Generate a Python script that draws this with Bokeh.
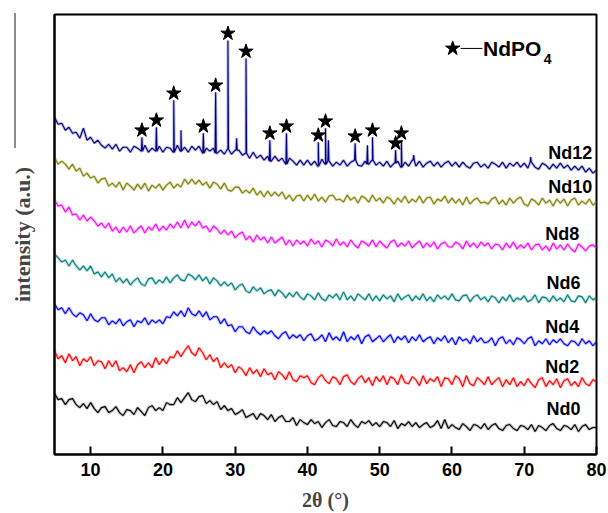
import numpy as np
from bokeh.plotting import figure
from bokeh.models import Range1d, FixedTicker, InlineStyleSheet
from bokeh.core.properties import value
from bokeh.embed import file_html
from bokeh.resources import INLINE

# 2theta sampling (degrees)
theta_start, theta_stop, theta_step = 5.0, 80.0, 0.5
two_theta = np.arange(theta_start, theta_stop + theta_step / 2, theta_step)

# intensities (a.u.), offset-stacked as in the original
nd0 = [61, 55, 56, 50, 55, 56, 50, 47, 51, 46,
       52, 46, 42, 47, 48, 42, 44, 48, 42, 39,
       45, 44, 40, 47, 43, 39, 47, 49, 44, 47,
       44, 52, 50, 50, 57, 52, 57, 62, 55, 53,
       58, 59, 51, 54, 50, 53, 45, 49, 44, 46,
       40, 42, 45, 37, 39, 41, 35, 41, 39, 35,
       40, 33, 37, 39, 33, 33, 37, 29, 35, 32,
       30, 35, 31, 33, 27, 32, 35, 29, 28, 33,
       32, 28, 35, 30, 27, 33, 31, 34, 29, 32,
       28, 33, 32, 28, 34, 26, 31, 29, 33, 28,
       32, 27, 30, 32, 27, 29, 34, 26, 35, 26,
       30, 27, 25, 31, 28, 24, 30, 29, 26, 31,
       25, 29, 31, 26, 24, 29, 30, 26, 24, 29,
       28, 25, 30, 23, 29, 27, 24, 29, 31, 26,
       24, 29, 28, 25, 30, 23, 28, 30, 25, 27,
       27]
nd2 = [104, 96, 99, 92, 101, 94, 98, 89, 96, 93,
       98, 89, 94, 93, 86, 94, 88, 94, 84, 87,
       83, 90, 82, 90, 93, 87, 92, 87, 97, 90,
       96, 91, 98, 97, 104, 98, 104, 109, 102, 99,
       107, 102, 95, 100, 93, 97, 87, 92, 87, 90,
       82, 88, 85, 79, 87, 81, 85, 78, 86, 80,
       82, 75, 83, 80, 75, 83, 75, 73, 79, 77,
       79, 72, 70, 77, 80, 74, 71, 78, 76, 70,
       78, 80, 73, 70, 76, 79, 72, 77, 69, 78,
       73, 79, 70, 78, 76, 70, 80, 72, 71, 78,
       75, 69, 79, 71, 76, 73, 78, 68, 77, 76,
       70, 79, 76, 68, 79, 71, 69, 77, 74, 70,
       78, 70, 74, 77, 68, 75, 70, 77, 68, 73,
       69, 76, 71, 67, 75, 77, 68, 74, 70, 76,
       67, 74, 76, 69, 73, 68, 77, 71, 69, 75,
       73]
nd4 = [151, 145, 147, 141, 147, 141, 138, 142, 140, 134,
       141, 135, 133, 137, 137, 130, 134, 131, 136, 129,
       133, 135, 128, 134, 132, 137, 130, 135, 132, 135,
       131, 138, 137, 143, 139, 144, 138, 147, 141, 139,
       144, 138, 143, 135, 138, 138, 131, 136, 129, 130,
       123, 128, 128, 123, 121, 128, 123, 120, 124, 121,
       124, 119, 116, 121, 123, 116, 120, 117, 120, 114,
       119, 121, 114, 116, 120, 113, 122, 115, 118, 114,
       123, 113, 118, 115, 120, 111, 118, 120, 113, 116,
       119, 113, 117, 120, 112, 118, 115, 119, 112, 118,
       114, 120, 113, 116, 118, 111, 117, 114, 119, 112,
       117, 110, 118, 114, 116, 111, 119, 113, 117, 112,
       113, 117, 109, 116, 118, 111, 115, 110, 117, 115,
       111, 116, 118, 109, 114, 111, 116, 110, 115, 112,
       116, 111, 109, 114, 113, 109, 116, 111, 114, 109,
       113]
nd6 = [201, 197, 193, 195, 189, 195, 189, 185, 189, 184,
       189, 181, 183, 178, 183, 177, 181, 173, 177, 172,
       176, 170, 174, 177, 171, 169, 176, 177, 171, 175,
       172, 178, 172, 177, 180, 175, 174, 181, 179, 175,
       180, 174, 178, 171, 177, 174, 169, 173, 169, 172,
       165, 169, 171, 164, 162, 168, 164, 167, 161, 164,
       165, 159, 165, 162, 157, 162, 158, 163, 158, 155,
       161, 159, 155, 162, 156, 154, 160, 157, 161, 155,
       163, 155, 159, 154, 161, 158, 155, 161, 154, 159,
       154, 160, 156, 159, 153, 161, 155, 158, 160, 154,
       159, 155, 161, 154, 158, 153, 160, 156, 159, 155,
       161, 155, 154, 159, 160, 153, 158, 160, 155, 158,
       153, 159, 157, 152, 158, 154, 160, 153, 157, 155,
       159, 153, 155, 160, 152, 158, 157, 153, 159, 154,
       157, 153, 160, 154, 153, 159, 158, 152, 159, 155,
       157]
nd8 = [255, 249, 250, 243, 248, 240, 241, 235, 240, 234,
       238, 234, 229, 232, 227, 232, 224, 228, 222, 228,
       223, 229, 222, 226, 229, 222, 228, 225, 231, 224,
       229, 225, 231, 227, 233, 227, 235, 227, 233, 229,
       234, 227, 229, 223, 229, 226, 221, 225, 220, 224,
       217, 221, 223, 215, 219, 213, 220, 215, 218, 212,
       218, 212, 215, 218, 210, 215, 209, 215, 211, 214,
       209, 216, 211, 214, 208, 215, 213, 209, 216, 210,
       213, 208, 215, 210, 207, 214, 212, 209, 215, 208,
       214, 210, 207, 213, 215, 208, 212, 209, 214, 207,
       211, 214, 207, 212, 208, 213, 206, 211, 213, 208,
       208, 213, 211, 206, 214, 208, 212, 207, 213, 209,
       212, 206, 211, 210, 205, 212, 207, 213, 206, 210,
       207, 212, 205, 210, 211, 205, 209, 204, 212, 206,
       210, 205, 211, 206, 203, 211, 208, 204, 209, 210,
       207]
nd10 = [298, 291, 294, 291, 286, 291, 284, 287, 279, 282,
        277, 279, 272, 276, 277, 269, 272, 268, 273, 265,
        272, 269, 265, 271, 266, 272, 264, 270, 267, 271,
        265, 270, 273, 267, 271, 268, 276, 271, 276, 271,
        275, 270, 273, 267, 273, 271, 266, 272, 265, 264,
        268, 268, 262, 265, 262, 267, 260, 264, 258, 264,
        259, 263, 259, 263, 256, 260, 254, 259, 260, 254,
        260, 255, 261, 254, 258, 253, 259, 260, 255, 256,
        253, 260, 255, 258, 252, 259, 257, 253, 260, 254,
        257, 252, 258, 256, 251, 257, 253, 259, 252, 256,
        253, 259, 252, 257, 258, 251, 256, 254, 259, 252,
        257, 252, 256, 250, 258, 251, 255, 257, 252, 253,
        251, 256, 258, 251, 255, 250, 257, 252, 256, 258,
        251, 249, 256, 254, 250, 257, 252, 255, 249, 256,
        252, 256, 249, 255, 257, 250, 254, 251, 256, 250,
        253]
nd12 = [338, 331, 332, 325, 328, 322, 323, 317, 327, 315,
        318, 312, 315, 310, 307, 311, 306, 311, 304, 308,
        308, 303, 309, 307, 304, 310, 303, 307, 304, 309,
        303, 308, 307, 303, 310, 304, 308, 303, 309, 305,
        309, 302, 307, 304, 307, 302, 305, 301, 306, 301,
        305, 305, 300, 302, 297, 303, 297, 300, 295, 299,
        294, 299, 294, 297, 291, 297, 294, 290, 295, 290,
        295, 290, 294, 289, 296, 291, 294, 289, 293, 290,
        295, 289, 293, 295, 290, 289, 294, 291, 295, 290,
        293, 289, 294, 288, 292, 294, 288, 293, 289, 295,
        289, 294, 288, 292, 294, 289, 293, 288, 292, 294,
        289, 293, 288, 293, 289, 287, 292, 293, 288, 291,
        287, 293, 291, 288, 293, 287, 292, 289, 293, 288,
        292, 287, 293, 288, 286, 292, 290, 286, 291, 287,
        292, 287, 290, 285, 289, 285, 289, 283, 287, 282,
        285]

# NdPO4 reflections in Nd12 (2theta, peak top) and whether a star marks it
peak_pos = [17.1, 19.1, 21.5, 22.5, 25.6, 27.3, 29.0, 30.2, 31.5, 34.8, 37.1,
            41.5, 42.5, 42.9, 46.6, 48.3, 49.0, 52.2, 53.0, 54.7, 70.9]
peak_top = [318, 328, 355, 325, 322, 363, 415, 317, 397, 315, 322,
            313, 327, 315, 312, 310, 318, 305, 315, 300, 298]
peak_star = [1, 1, 1, 0, 1, 1, 1, 0, 1, 1, 1,
             1, 1, 0, 1, 0, 1, 1, 1, 0, 0]

series_names = ["Nd0", "Nd2", "Nd4", "Nd6", "Nd8", "Nd10", "Nd12"]
series_colors = ["#000000", "#ff0000", "#0000ff", "#008080", "#ff00ff", "#808000", "#000080"]
label_x = [77.8, 77.6, 77.6, 77.8, 77.6, 79.4, 79.4]
label_y = [46, 88, 128, 172, 221, 268, 302]

x_ticks = [10, 20, 30, 40, 50, 60, 70, 80]

p = figure(width=608, height=513, output_backend="svg", toolbar_location=None,
           x_range=Range1d(5, 80), y_range=Range1d(0, 441),
           min_border_left=54, min_border_right=12, min_border_top=14, min_border_bottom=58)
p.grid.visible = False
p.background_fill_color = "white"
p.border_fill_color = "white"
p.outline_line_color = "black"
p.outline_line_width = 2

# thin grey rule at the far left of the original panel (page decoration)
p.stylesheets.append(InlineStyleSheet(css=(
    ":host { position: relative; }"
    ":host::after { content: ''; position: absolute; left: 14px; top: 13px;"
    " width: 2px; height: 135px; background: #8c8c8c; pointer-events: none; }"
)))

# build Nd12 with its sharp reflections
xs12 = list(two_theta)
ys12 = list(nd12)
for pos, top in zip(peak_pos, peak_top):
    i = int(round((pos - theta_start) / theta_step))
    base = nd12[i]
    xs12 += [pos - 0.08, pos, pos + 0.08]
    ys12 += [base, top, base]
order = np.argsort(np.array(xs12), kind="mergesort")
xs12 = np.array(xs12)[order]
ys12 = np.array(ys12)[order]

all_x = [two_theta] * 6 + [xs12]
all_y = [nd0, nd2, nd4, nd6, nd8, nd10, ys12]
for xs, ys, c in zip(all_x, all_y, series_colors):
    p.line(xs, ys, line_color=c, line_width=3, line_alpha=0.25)
for xs, ys, c in zip(all_x, all_y, series_colors):
    p.line(xs, ys, line_color=c, line_width=1.1)

# star markers over reflections
star_x = [pp for pp, s in zip(peak_pos, peak_star) if s]
star_y = [t + 7 for t, s in zip(peak_top, peak_star) if s]
p.scatter(star_x, star_y, marker="star", size=15, fill_color="black", line_color="black")

# series labels
p.text(label_x, label_y, text=series_names, text_font=value("Liberation Sans"),
       text_font_style="bold", text_font_size="18px", text_align="right",
       text_baseline="middle", text_color="black")

# NdPO4 key
key_x, key_y = 60.1, 407
p.scatter([key_x], [key_y], marker="star", size=15, fill_color="black", line_color="black")
p.line([key_x + 1.1, key_x + 4.1], [key_y, key_y], line_color="black", line_width=1)
p.text([key_x + 4.2], [key_y], text=["NdPO"], text_font=value("Liberation Sans"),
       text_font_style="bold", text_font_size="21px", text_align="left",
       text_baseline="middle", text_color="black")
p.text([key_x + 12.6], [key_y - 11], text=["4"], text_font=value("Liberation Sans"),
       text_font_style="bold", text_font_size="14px", text_align="left",
       text_baseline="middle", text_color="black")

# axes
xa = p.xaxis[0]
xa.ticker = FixedTicker(ticks=x_ticks, minor_ticks=[])
xa.major_tick_in = 8
xa.major_tick_out = 0
xa.major_tick_line_width = 2
xa.axis_line_width = 2
xa.major_label_text_font = "Liberation Sans"
xa.major_label_text_font_style = "bold"
xa.major_label_text_font_size = "18px"
xa.major_label_text_color = "black"
xa.major_label_standoff = 8
xa.axis_label = "2θ (°)"
xa.axis_label_text_font = "Liberation Serif"
xa.axis_label_text_font_style = "bold"
xa.axis_label_text_font_size = "20px"
xa.axis_label_standoff = 10

ya = p.yaxis[0]
ya.ticker = FixedTicker(ticks=[])
ya.major_tick_in = 0
ya.major_tick_out = 0
ya.minor_tick_in = 0
ya.minor_tick_out = 0
ya.axis_line_width = 2
ya.major_label_text_font_size = "0px"
ya.major_label_standoff = 0
ya.axis_label = "intensity (a.u.)"
ya.axis_label_text_font = "Liberation Serif"
ya.axis_label_text_font_style = "bold"
ya.axis_label_text_font_size = "22px"
ya.axis_label_standoff = 20

open("out.html", "w").write(file_html(p, INLINE))
